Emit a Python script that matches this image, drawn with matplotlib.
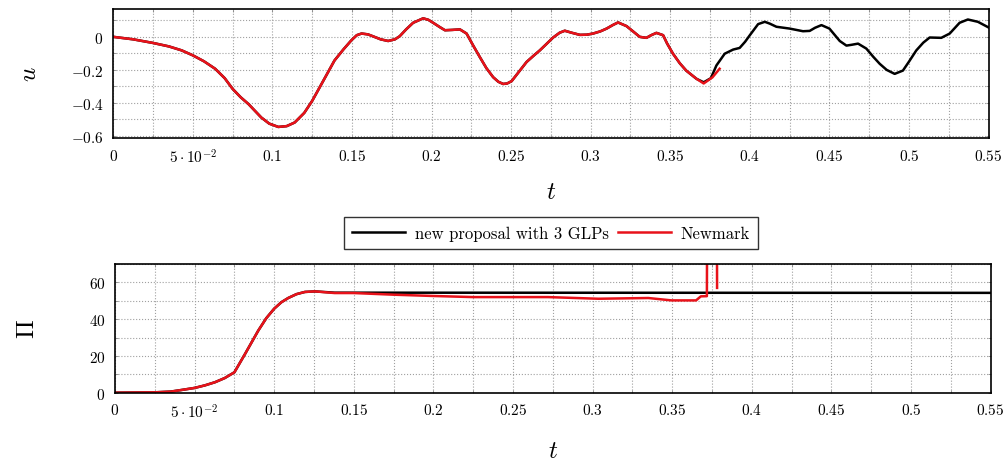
import matplotlib
matplotlib.use('Agg')
import matplotlib.pyplot as plt
from matplotlib.ticker import MultipleLocator, FixedLocator

plt.rcParams['mathtext.fontset'] = 'cm'
plt.rcParams['font.family'] = 'serif'
plt.rcParams['font.serif'] = ['cmr10', 'DejaVu Serif']
plt.rcParams['axes.unicode_minus'] = False

# displacement u(t), new proposal with 3 GLPs
t_u_new = [0, 0.0125, 0.025, 0.035, 0.043, 0.05, 0.057, 0.064, 0.07, 0.075, 0.08, 0.085, 0.093,
           0.098, 0.1037, 0.109, 0.114, 0.12, 0.125, 0.13, 0.139, 0.1447, 0.1497, 0.153, 0.156,
           0.16, 0.163, 0.168, 0.1727, 0.177, 0.18, 0.184, 0.1884, 0.1947, 0.198, 0.201, 0.205,
           0.2084, 0.213, 0.2178, 0.222, 0.226, 0.2303, 0.2345, 0.2387, 0.242, 0.245, 0.2475,
           0.2503, 0.255, 0.2597, 0.264, 0.268, 0.272, 0.2764, 0.2805, 0.2837, 0.288, 0.2932,
           0.2975, 0.3015, 0.306, 0.31, 0.314, 0.3172, 0.3225, 0.327, 0.3308, 0.335, 0.338,
           0.3413, 0.3455, 0.348, 0.3517, 0.356, 0.36, 0.3665, 0.371,
           0.3755, 0.379, 0.3842, 0.3895, 0.3936, 0.397, 0.4, 0.4052, 0.4094, 0.4125, 0.4167,
           0.425, 0.4334, 0.4376, 0.441, 0.445, 0.45, 0.4565, 0.4607, 0.464, 0.468, 0.4732,
           0.4775, 0.4816, 0.486, 0.491, 0.4962, 0.5, 0.5046, 0.509, 0.513, 0.5203, 0.5256,
           0.5318, 0.537, 0.5433, 0.55]
u_new = [0, -0.015, -0.037, -0.058, -0.082, -0.112, -0.148, -0.193, -0.25, -0.315, -0.365, -0.407,
         -0.488, -0.525, -0.545, -0.54, -0.518, -0.46, -0.387, -0.30, -0.143, -0.075, -0.02, 0.01,
         0.02, 0.015, 0.004, -0.015, -0.025, -0.015, 0.004, 0.045, 0.085, 0.112, 0.103, 0.085,
         0.06, 0.04, 0.042, 0.045, 0.02, -0.05, -0.122, -0.19, -0.244, -0.272, -0.285, -0.282,
         -0.268, -0.21, -0.152, -0.115, -0.082, -0.045, -0.004, 0.025, 0.037, 0.025, 0.012,
         0.013, 0.02, 0.033, 0.05, 0.072, 0.087, 0.065, 0.03, 0.0, -0.006, 0.01,
         0.024, 0.01, -0.04, -0.102, -0.16, -0.204, -0.254, -0.275,
         -0.25, -0.173, -0.102, -0.077, -0.067, -0.03, 0.01, 0.077, 0.091, 0.08, 0.061,
         0.05, 0.034, 0.036, 0.055, 0.071, 0.05, -0.025, -0.053, -0.048, -0.041, -0.071,
         -0.12, -0.163, -0.2, -0.224, -0.204, -0.15, -0.082, -0.035, -0.004, -0.006, 0.02,
         0.085, 0.105, 0.091, 0.057]

# displacement u(t), Newmark
n_common = 77
t_u_nm = t_u_new[:n_common] + [0.371, 0.3765, 0.381]
u_nm = u_new[:n_common] + [-0.282, -0.245, -0.193]

# Pi(t)
t_pi_new = [0, 0.025, 0.035, 0.0419, 0.05, 0.0565, 0.0628, 0.069, 0.075, 0.0817, 0.09, 0.095,
            0.1, 0.1045, 0.1088, 0.114, 0.1193, 0.1256, 0.138, 0.55]
pi_new = [0, 0.2, 0.6, 1.5, 2.6, 4.0, 5.7, 8.0, 11.1, 21.1, 33.8, 40.5,
          45.7, 49.2, 51.5, 53.6, 54.8, 55.1, 54.4, 54.3]

t_pi_nm = [0, 0.025, 0.035, 0.0419, 0.05, 0.0565, 0.0628, 0.069, 0.075, 0.0817, 0.09, 0.095,
           0.1, 0.1045, 0.1088, 0.114, 0.1193, 0.1256,
           0.138, 0.15, 0.175, 0.2, 0.225, 0.2418, 0.272, 0.3036, 0.335, 0.3496, 0.365, 0.368,
           0.3718, 0.3724, 0.3778, 0.3782]
pi_nm = [0, 0.2, 0.6, 1.5, 2.6, 4.0, 5.7, 8.0, 11.1, 21.1, 33.8, 40.5,
         45.7, 49.2, 51.5, 53.6, 54.8, 55.1,
         54.2, 54.2, 53.3, 52.6, 52.0, 52.0, 52.0, 51.1, 51.5, 50.2, 50.2, 52.4,
         52.5, 200, 200, 57]

x_ticks = [0, 0.05, 0.1, 0.15, 0.2, 0.25, 0.3, 0.35, 0.4, 0.45, 0.5, 0.55]
x_labels = ['$0$', r'$5\cdot10^{-2}$', '$0.1$', '$0.15$', '$0.2$', '$0.25$', '$0.3$', '$0.35$',
            '$0.4$', '$0.45$', '$0.5$', '$0.55$']
u_ticks = [-0.6, -0.4, -0.2, 0]
u_labels = ['$-0.6$', '$-0.4$', '$-0.2$', '$0$']
pi_ticks = [0, 20, 40, 60]
pi_labels = ['$0$', '$20$', '$40$', '$60$']

RED = '#e8121a'
FS = 11

fig = plt.figure(figsize=(10.08, 4.64), dpi=100)
ax1 = fig.add_axes([0.1124, 0.7004, 0.8683, 0.2786])
ax2 = fig.add_axes([0.1141, 0.1515, 0.8686, 0.2774])


def style(ax, yt, yl, yminor):
    ax.set_xlim(0, 0.55)
    ax.xaxis.set_major_locator(FixedLocator(x_ticks))
    ax.set_xticklabels(x_labels, fontsize=FS)
    ax.xaxis.set_minor_locator(MultipleLocator(0.025))
    ax.yaxis.set_major_locator(FixedLocator(yt))
    ax.set_yticklabels(yl, fontsize=FS)
    ax.yaxis.set_minor_locator(MultipleLocator(yminor))
    ax.grid(True, which='both', linestyle=':', color='#a0a0a0', linewidth=0.8)
    ax.tick_params(which='both', direction='in', top=True, right=True, length=2.5,
                   width=0.6, color='#888888')
    ax.tick_params(axis='x', pad=7)
    ax.tick_params(axis='y', pad=7)
    for s in ax.spines.values():
        s.set_linewidth(1.2)


ax1.plot(t_u_new, u_new, color='black', lw=1.8, label='new proposal with 3 GLPs')
ax1.plot(t_u_nm, u_nm, color=RED, lw=1.8, label='Newmark')
ax1.set_ylim(-0.612, 0.17)
style(ax1, u_ticks, u_labels, 0.1)
ax1.set_xlabel('$t$', fontsize=18)
ax1.xaxis.set_label_coords(0.5, -0.42)
ax1.xaxis.label.set_va('center')
ax1.set_ylabel('$u$', fontsize=18)
ax1.yaxis.set_label_coords(-0.095, 0.5)
ax1.yaxis.label.set_va('center')

ax2.plot(t_pi_new, pi_new, color='black', lw=1.8)
ax2.plot(t_pi_nm, pi_nm, color=RED, lw=1.8)
ax2.set_ylim(0, 70)
style(ax2, pi_ticks, pi_labels, 10)
ax2.set_xlabel('$t$', fontsize=18)
ax2.xaxis.set_label_coords(0.5, -0.45)
ax2.xaxis.label.set_va('center')
ax2.set_ylabel(r'$\Pi$', fontsize=18)
ax2.yaxis.set_label_coords(-0.1, 0.5)
ax2.yaxis.label.set_va('center')

h, l = ax1.get_legend_handles_labels()
leg = fig.legend(h, l, loc='center', bbox_to_anchor=(551 / 1008, 1 - 234 / 464), ncol=2,
                 fontsize=12, frameon=True, fancybox=False, edgecolor='black',
                 handlelength=3.2, columnspacing=0.5, handletextpad=0.6, borderpad=0.5)
leg.get_frame().set_linewidth(1.0)

fig.savefig('out.png', dpi=100)
